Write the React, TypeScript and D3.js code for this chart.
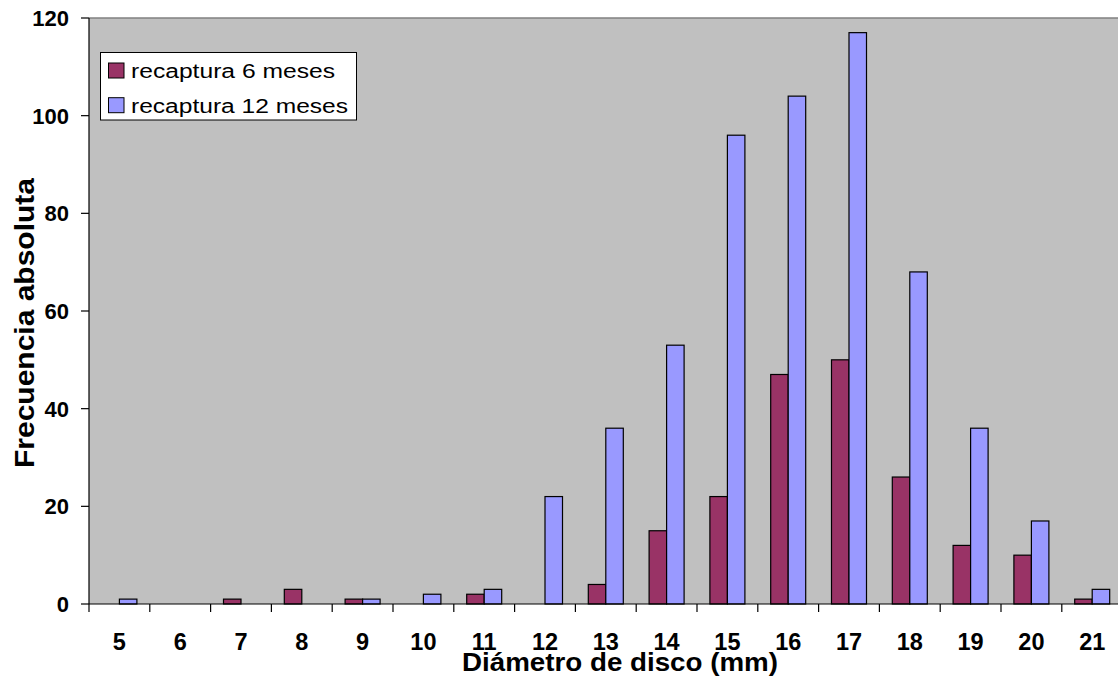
import React from "react";
import * as d3 from "d3";

const categories = ["5","6","7","8","9","10","11","12","13","14","15","16","17","18","19","20","21"];
const seriesNames = ["recaptura 6 meses", "recaptura 12 meses"];
const recaptura6 = [0,0,1,3,1,0,2,0,4,15,22,47,50,26,12,10,1];
const recaptura12 = [1,0,0,0,1,2,3,22,36,53,96,104,117,68,36,17,3];
const yTicks = [0,20,40,60,80,100,120];
const colors = ["#993366", "#9999FF"];

const W = 1118, H = 677;
const left = 89, top = 18, bottom = 604;
const bandW = 60.8;
const right = left + bandW * categories.length;

export default function App() {
  const x = d3.scaleBand<string>().domain(categories).range([left, right]).paddingInner(0).paddingOuter(0);
  const y = d3.scaleLinear().domain([0, 120]).range([bottom, top]);
  const barW = 17.5;
  const series = [recaptura6, recaptura12];
  const font = "Arial, 'Liberation Sans', sans-serif";
  const legendLens = [204, 217];
  return (
    <svg width={W} height={H} style={{ position: "absolute", left: 0, top: 0, display: "block" }} fontFamily={font}>
      <rect x={0} y={0} width={W} height={H} fill="#fff" />
      <rect x={left} y={top} width={right - left} height={bottom - top} fill="#C0C0C0" />
      <line x1={left} x2={right} y1={top} y2={top} stroke="#808080" strokeWidth={1.5} />
      {series.map((vals, si) =>
        vals.map((v, i) => {
          if (v === 0) return null;
          const cx = x(categories[i])! + x.bandwidth() / 2;
          const bx = si === 0 ? cx - barW : cx;
          return (
            <rect key={si + "-" + i} x={bx} y={y(v)} width={barW} height={bottom - y(v)}
              fill={colors[si]} stroke="#000" strokeWidth={1.2} />
          );
        })
      )}
      {/* y axis */}
      <line x1={left} x2={left} y1={top} y2={bottom} stroke="#000" strokeWidth={1.2} />
      {yTicks.map(t => (
        <g key={t}>
          <line x1={left - 8} x2={left} y1={y(t)} y2={y(t)} stroke="#000" strokeWidth={1.2} />
          <text x={69} y={y(t)} dy="0.36em" textAnchor="end" fontSize={22} fontWeight="bold">{t}</text>
        </g>
      ))}
      {/* x axis */}
      <line x1={left} x2={right} y1={bottom} y2={bottom} stroke="#000" strokeWidth={1.2} />
      {categories.map((c) => (
        <g key={c}>
          <line x1={x(c)!} x2={x(c)!} y1={bottom} y2={bottom + 8} stroke="#000" strokeWidth={1.2} />
          <text x={x(c)! + x.bandwidth() / 2} y={650} textAnchor="middle" fontSize={23.5} fontWeight="bold">{c}</text>
        </g>
      ))}
      <text x={620} y={671} textAnchor="middle" fontSize={26.5} fontWeight="bold" textLength={316} lengthAdjust="spacingAndGlyphs">Diámetro de disco (mm)</text>
      <text transform="translate(34,323) rotate(-90)" textAnchor="middle" fontSize={28} fontWeight="bold" textLength={290} lengthAdjust="spacingAndGlyphs">Frecuencia absoluta</text>
      {/* legend */}
      <rect x={100.5} y={52.5} width={256} height={67.5} fill="#fff" stroke="#000" strokeWidth={1} />
      {seriesNames.map((n, i) => (
        <g key={n}>
          <rect x={108.5} y={63 + i * 34.7} width={15.5} height={15} fill={colors[i]} stroke="#000" strokeWidth={1} />
          <text x={131} y={78.3 + i * 34.4} fontSize={20} textLength={legendLens[i]} lengthAdjust="spacingAndGlyphs">{n}</text>
        </g>
      ))}
    </svg>
  );
}
